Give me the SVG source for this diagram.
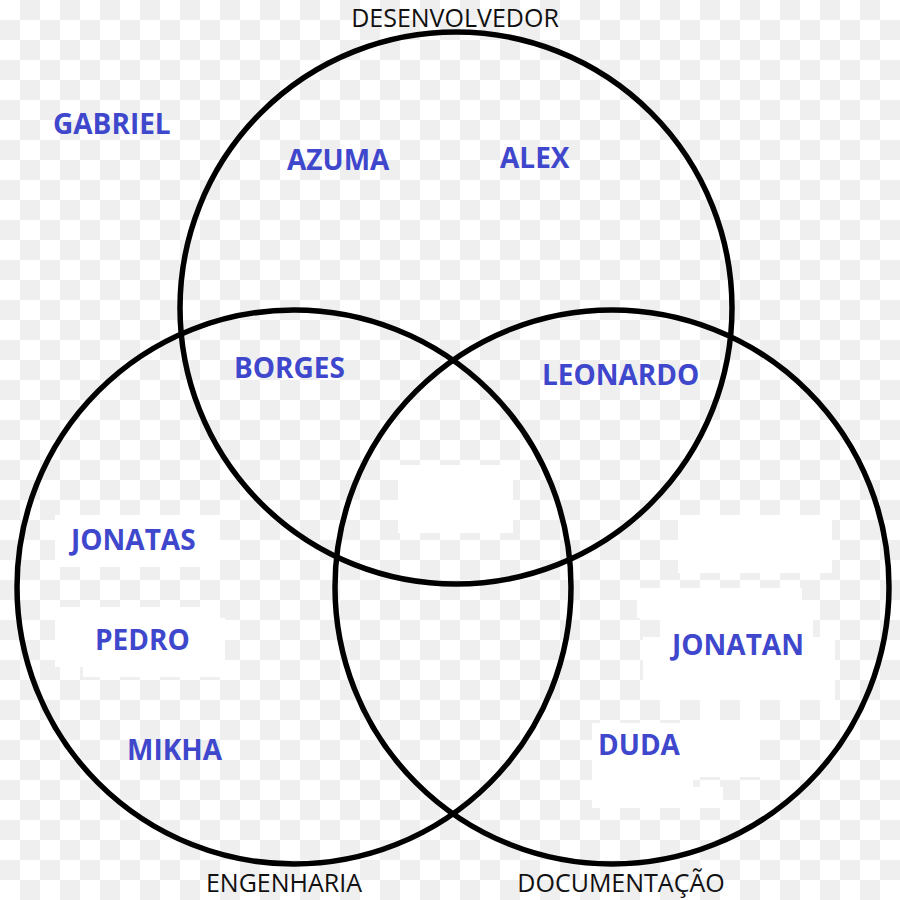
<svg xmlns="http://www.w3.org/2000/svg" width="900" height="900" viewBox="0 0 900 900">
<defs>
<pattern id="chk" width="40" height="40" patternUnits="userSpaceOnUse">
<rect width="40" height="40" fill="#ffffff"/>
<rect x="20" y="0" width="20" height="20" fill="#efefef"/>
<rect x="0" y="20" width="20" height="20" fill="#efefef"/>
</pattern>
</defs>
<style>
.set{fill:none;stroke:#000;stroke-width:5.5}
.cap{font-family:"Open Sans","Noto Sans","Liberation Sans",sans-serif;font-size:25px;fill:#111;text-anchor:middle}
.nm{font-family:"Open Sans","Noto Sans","Liberation Sans",sans-serif;font-size:28px;font-weight:bold;fill:#3f48cc}
.patch{fill:#fff}
</style>
<rect width="900" height="900" fill="url(#chk)"/>
<g id="patches">
<rect class="patch" x="55" y="515" width="165" height="52"/>
<rect class="patch" x="55" y="607" width="145" height="60"/>
<rect class="patch" x="83" y="618" width="142" height="59"/>
<rect class="patch" x="398" y="465" width="115" height="68"/>
<rect class="patch" x="678" y="515" width="154" height="58"/>
<rect class="patch" x="637" y="588" width="165" height="30"/>
<rect class="patch" x="660" y="618" width="153" height="59"/>
<rect class="patch" x="643" y="637" width="192" height="63"/>
<rect class="patch" x="592" y="723" width="101" height="64"/>
<rect class="patch" x="693" y="720" width="67" height="57"/>
<rect class="patch" x="592" y="787" width="131" height="21"/>
</g>
<g id="sets">
<g id="desenvolvedor"><circle class="set" cx="456" cy="308" r="276"/><text class="cap" x="455" y="27">DESENVOLVEDOR</text></g>
<g id="engenharia"><circle class="set" cx="294" cy="587" r="277"/><text class="cap" x="284" y="892">ENGENHARIA</text></g>
<g id="documentacao"><circle class="set" cx="612" cy="587" r="277"/><text class="cap" x="621" y="892">DOCUMENTAÇÃO</text></g>
</g>
<g id="names">
<text id="gabriel" class="nm" x="53" y="134">GABRIEL</text>
<text id="azuma" class="nm" x="287" y="170">AZUMA</text>
<text id="alex" class="nm" x="500" y="168">ALEX</text>
<text id="borges" class="nm" x="234" y="378">BORGES</text>
<text id="leonardo" class="nm" x="542" y="385">LEONARDO</text>
<text id="jonatas" class="nm" x="71" y="550">JONATAS</text>
<text id="pedro" class="nm" x="95" y="650">PEDRO</text>
<text id="mikha" class="nm" x="127" y="760">MIKHA</text>
<text id="jonatan" class="nm" x="672" y="655">JONATAN</text>
<text id="duda" class="nm" x="598" y="755">DUDA</text>
</g>
</svg>
